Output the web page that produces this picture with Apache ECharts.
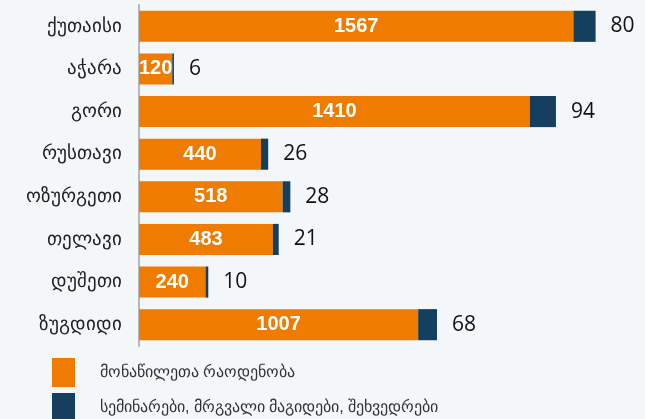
<!DOCTYPE html>
<html style="height: 100%">
    <head>
        <meta charset="utf-8">
    </head>
    <body style="height: 100%; margin: 0; background: #f4f7f9">
        <div id="container" style="height: 100%"></div>

        <script type="text/javascript" src="https://cdn.jsdelivr.net/npm/echarts@6/dist/echarts.min.js"></script>
        <script type="text/javascript">

var regions = ['ქუთაისი', 'აჭარა', 'გორი', 'რუსთავი', 'ოზურგეთი', 'თელავი', 'დუშეთი', 'ზუგდიდი'];
var participants = [1567, 120, 1410, 440, 518, 483, 240, 1007];
var events = [80, 6, 94, 26, 28, 21, 10, 68];
var seriesNames = ['მონაწილეთა რაოდენობა', 'სემინარები, მრგვალი მაგიდები, შეხვედრები'];

var dom = document.getElementById("container");
var myChart = echarts.init(dom);

var option = {
    backgroundColor: '#f4f7f9',
    color: ['#ef7b00', '#143f5e'],
    grid: {
        left: 139,
        right: 7,
        top: 5,
        bottom: 73
    },
    legend: {
        orient: 'vertical',
        left: 52,
        top: 358,
        height: 100,
        padding: 0,
        icon: 'rect',
        itemWidth: 23,
        itemHeight: 29,
        itemGap: 6,
        textStyle: {
            fontSize: 16,
            color: '#333',
            padding: [0, 0, 0, 20]
        },
        data: seriesNames
    },
    xAxis: {
        type: 'value',
        min: 0,
        max: 1800,
        show: false
    },
    yAxis: {
        type: 'category',
        inverse: true,
        data: regions,
        axisLine: {
            show: true,
            lineStyle: { color: '#b8b8b8', width: 2 }
        },
        axisTick: { show: false },
        axisLabel: {
            fontSize: 19,
            color: '#222',
            margin: 17
        }
    },
    series: [
        {
            name: seriesNames[0],
            type: 'bar',
            stack: 'total',
            barCategoryGap: '27%',
            data: participants,
            label: {
                show: true,
                position: 'inside',
                color: '#fff',
                fontFamily: 'Liberation Sans',
                fontWeight: 'bold',
                fontSize: 20
            }
        },
        {
            name: seriesNames[1],
            type: 'bar',
            stack: 'total',
            data: events,
            label: {
                show: true,
                position: 'right',
                distance: 15,
                color: '#111',
                fontFamily: 'Open Sans',
                fontSize: 21
            }
        }
    ]
};

myChart.setOption(option);

        </script>
    </body>
</html>
